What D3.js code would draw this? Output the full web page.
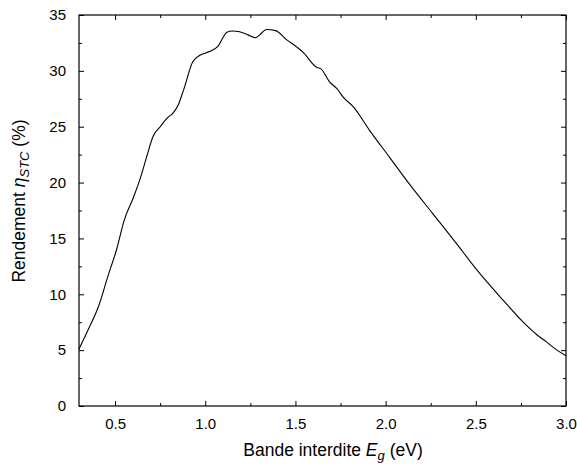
<!DOCTYPE html>
<html>
<head>
<meta charset="utf-8">
<script src="https://cdn.jsdelivr.net/npm/d3@7"></script>
<style>
  body { margin: 0; background: #fff; }
  text { font-family: "Liberation Sans", Arial, sans-serif; fill: #000; }
</style>
</head>
<body>
<div id="plot"></div>
<script>
// band gap (eV) and STC efficiency (%)
const gap = [0.30, 0.35, 0.41, 0.46, 0.51, 0.55, 0.60, 0.64, 0.675, 0.71, 0.75, 0.79, 0.82, 0.85,
  0.88, 0.93, 0.97, 1.02, 1.07, 1.12, 1.15, 1.19, 1.24, 1.28, 1.30, 1.34, 1.39, 1.45, 1.51,
  1.54, 1.62, 1.64, 1.69, 1.73, 1.77, 1.82, 1.91, 2.02, 2.13, 2.26, 2.39, 2.50, 2.65, 2.76,
  2.84, 2.89, 2.95, 3.00];
const eff = [5.1, 6.8, 9.0, 11.6, 14.1, 16.6, 18.6, 20.4, 22.3, 24.1, 25.0, 25.8, 26.2, 26.95,
  28.3, 30.8, 31.4, 31.7, 32.2, 33.45, 33.57, 33.5, 33.2, 32.97, 33.2, 33.7, 33.6, 32.8, 32.1,
  31.7, 30.3, 30.2, 29.0, 28.4, 27.55, 26.8, 24.7, 22.3, 19.9, 17.25, 14.6, 12.3, 9.5, 7.55,
  6.36, 5.76, 5.0, 4.5];
const xTicks = [0.5, 1.0, 1.5, 2.0, 2.5, 3.0];
const xMinor = [0.75, 1.25, 1.75, 2.25, 2.75];
const yTicks = [0, 5, 10, 15, 20, 25, 30, 35];
const yMinor = [2.5, 7.5, 12.5, 17.5, 22.5, 27.5, 32.5];

const margin = {top: 15, right: 11, bottom: 60, left: 79},
    width = 577 - margin.left - margin.right,
    height = 466 - margin.top - margin.bottom;

const svg = d3.select("div#plot")
  .append("svg")
    .attr("width", 577)
    .attr("height", 466)
  .append("g")
    .attr("transform", `translate(${margin.left},${margin.top})`);

const x = d3.scaleLinear().domain([0.3, 3.0]).range([0, width]);
const y = d3.scaleLinear().domain([0, 35]).range([height, 0]);

// ticks point inward on all four sides
function styleAxis(g) {
  g.select(".domain").remove();
  g.selectAll("line").attr("stroke", "#000");
  g.selectAll("text").style("font-size", "15px");
}

svg.append("g")
  .attr("transform", `translate(0,${height})`)
  .call(d3.axisBottom(x).tickValues(xTicks).tickFormat(d3.format(".1f")).tickSizeInner(-5).tickPadding(12))
  .call(styleAxis);
svg.append("g")
  .attr("transform", `translate(0,${height})`)
  .call(d3.axisBottom(x).tickValues(xMinor).tickFormat("").tickSizeInner(-3))
  .call(styleAxis);
svg.append("g")
  .call(d3.axisTop(x).tickValues(xTicks).tickFormat("").tickSizeInner(-5))
  .call(styleAxis);
svg.append("g")
  .call(d3.axisTop(x).tickValues(xMinor).tickFormat("").tickSizeInner(-3))
  .call(styleAxis);

svg.append("g")
  .call(d3.axisLeft(y).tickValues(yTicks).tickSizeInner(-5).tickPadding(13))
  .call(styleAxis);
svg.append("g")
  .call(d3.axisLeft(y).tickValues(yMinor).tickFormat("").tickSizeInner(-3))
  .call(styleAxis);
svg.append("g")
  .attr("transform", `translate(${width},0)`)
  .call(d3.axisRight(y).tickValues(yTicks).tickFormat("").tickSizeInner(-5))
  .call(styleAxis);
svg.append("g")
  .attr("transform", `translate(${width},0)`)
  .call(d3.axisRight(y).tickValues(yMinor).tickFormat("").tickSizeInner(-3))
  .call(styleAxis);

// frame
svg.append("rect")
  .attr("width", width)
  .attr("height", height)
  .attr("fill", "none")
  .attr("stroke", "#000")
  .attr("stroke-width", 1.2);

const line = d3.line()
  .curve(d3.curveMonotoneX)
  .x(d => x(d[0]))
  .y(d => y(d[1]));

svg.append("path")
  .datum(d3.zip(gap, eff))
  .attr("fill", "none")
  .attr("stroke", "#000")
  .attr("stroke-width", 1.1)
  .attr("d", line);

// axis titles
const xt = svg.append("text")
  .attr("x", 254)
  .attr("y", height + 50)
  .attr("text-anchor", "middle")
  .style("font-size", "17.5px");
xt.append("tspan").text("Bande interdite ");
xt.append("tspan").style("font-style", "italic").text("E");
xt.append("tspan").style("font-style", "italic").style("font-size", "13px").attr("dy", 4).text("g");
xt.append("tspan").attr("dy", -4).text(" (eV)");

const yt = svg.append("text")
  .attr("transform", "rotate(-90)")
  .attr("x", -(201 - margin.top))
  .attr("y", 25 - margin.left)
  .attr("text-anchor", "middle")
  .style("font-size", "17.5px");
yt.append("tspan").text("Rendement ");
yt.append("tspan").style("font-style", "italic").text("η");
yt.append("tspan").style("font-style", "italic").style("font-size", "13px").attr("dy", 4).text("STC");
yt.append("tspan").attr("dy", -4).text(" (%)");
</script>
</body>
</html>
